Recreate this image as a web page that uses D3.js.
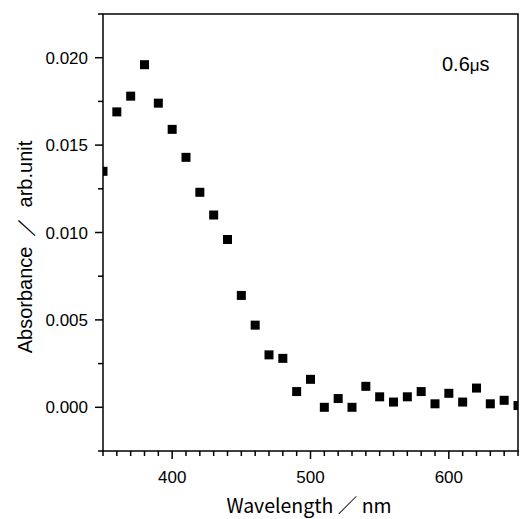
<!DOCTYPE html>
<html>
<head>
<meta charset="utf-8">
<script src="https://cdn.jsdelivr.net/npm/d3@7"></script>
<style>
body { margin: 0; background: #fff; }
text { font-family: "Liberation Sans", Arial, sans-serif; }
</style>
</head>
<body>
<div id="chart"></div>
<script>
var wavelengths = [350, 360, 370, 380, 390, 400, 410, 420, 430, 440, 450, 460, 470, 480, 490, 500,
    510, 520, 530, 540, 550, 560, 570, 580, 590, 600, 610, 620, 630, 640, 650];
var absorbance = [0.0135, 0.0169, 0.0178, 0.0196, 0.0174, 0.0159, 0.0143, 0.0123, 0.0110, 0.0096,
    0.0064, 0.0047, 0.0030, 0.0028, 0.0009, 0.0016, 0.0000, 0.0005, 0.0000, 0.0012, 0.0006,
    0.0003, 0.0006, 0.0009, 0.0002, 0.0008, 0.0003, 0.0011, 0.0002, 0.0004, 0.0001];
var xTicks = [400, 500, 600];
var yTicks = [0.000, 0.005, 0.010, 0.015, 0.020];

function init() {
    var w = 520;
    var h = 519;
    var left = 103, right = 518, top = 14, bottom = 451;

    var x = d3.scaleLinear().domain([350, 650]).range([left, right]);
    var y = d3.scaleLinear().domain([-0.0025, 0.0225]).range([bottom, top]);

    var svg = d3.select("#chart")
                .append("svg")
                .attr("width", w)
                .attr("height", h);

    svg.append("clipPath").attr("id", "clip")
        .append("rect")
        .attr("x", left).attr("y", top)
        .attr("width", right - left).attr("height", bottom - top);

    // minor ticks
    var xMinor = d3.range(350, 651, 10);
    var yMinor = d3.range(-0.0025, 0.0226, 0.0025);

    svg.append("g").selectAll("line")
        .data(xMinor)
        .enter().append("line")
        .attr("x1", function(d) { return x(d); })
        .attr("x2", function(d) { return x(d); })
        .attr("y1", bottom)
        .attr("y2", function(d) { return xTicks.indexOf(d) >= 0 ? bottom + 8 : bottom + 5; })
        .attr("stroke", "#000")
        .attr("stroke-width", 1.5);

    svg.append("g").selectAll("line")
        .data(yMinor)
        .enter().append("line")
        .attr("y1", function(d) { return y(d); })
        .attr("y2", function(d) { return y(d); })
        .attr("x1", left)
        .attr("x2", function(d) {
            var major = yTicks.some(function(t) { return Math.abs(t - d) < 1e-9; });
            return major ? left - 8 : left - 5;
        })
        .attr("stroke", "#000")
        .attr("stroke-width", 1.5);

    // tick labels
    svg.append("g").selectAll("text")
        .data(xTicks)
        .enter().append("text")
        .attr("x", function(d) { return x(d); })
        .attr("y", bottom + 32)
        .attr("text-anchor", "middle")
        .attr("font-size", 17)
        .text(function(d) { return d; });

    svg.append("g").selectAll("text")
        .data(yTicks)
        .enter().append("text")
        .attr("x", left - 15)
        .attr("y", function(d) { return y(d) + 6; })
        .attr("text-anchor", "end")
        .attr("font-size", 17)
        .text(function(d) { return d3.format(".3f")(d); });

    // frame
    svg.append("rect")
        .attr("x", left).attr("y", top)
        .attr("width", right - left).attr("height", bottom - top)
        .attr("fill", "none")
        .attr("stroke", "#000")
        .attr("stroke-width", 1.5);

    // points
    var s = 9;
    svg.append("g")
        .attr("clip-path", "url(#clip)")
        .selectAll("rect")
        .data(wavelengths)
        .enter().append("rect")
        .attr("x", function(d) { return x(d) - s / 2; })
        .attr("y", function(d, i) { return y(absorbance[i]) - s / 2; })
        .attr("width", s)
        .attr("height", s)
        .attr("fill", "#000");

    // axis titles
    svg.append("text")
        .attr("x", 309)
        .attr("y", 513)
        .attr("text-anchor", "middle")
        .attr("font-size", 19.5)
        .style("font-family", "'Noto Sans CJK JP', sans-serif")
        .text("Wavelength ／ nm");

    svg.append("text")
        .attr("transform", "translate(32,247) rotate(-90)")
        .attr("text-anchor", "middle")
        .attr("font-size", 20)
        .text("Absorbance \u2009／\u2009 arb.unit");

    var lab = svg.append("text")
        .attr("x", 442)
        .attr("y", 71)
        .attr("font-size", 20);
    lab.append("tspan").text("0.6");
    lab.append("tspan").attr("font-size", 17).text("μ");
    lab.append("tspan").text("s");
}

window.onload = init;
</script>
</body>
</html>
